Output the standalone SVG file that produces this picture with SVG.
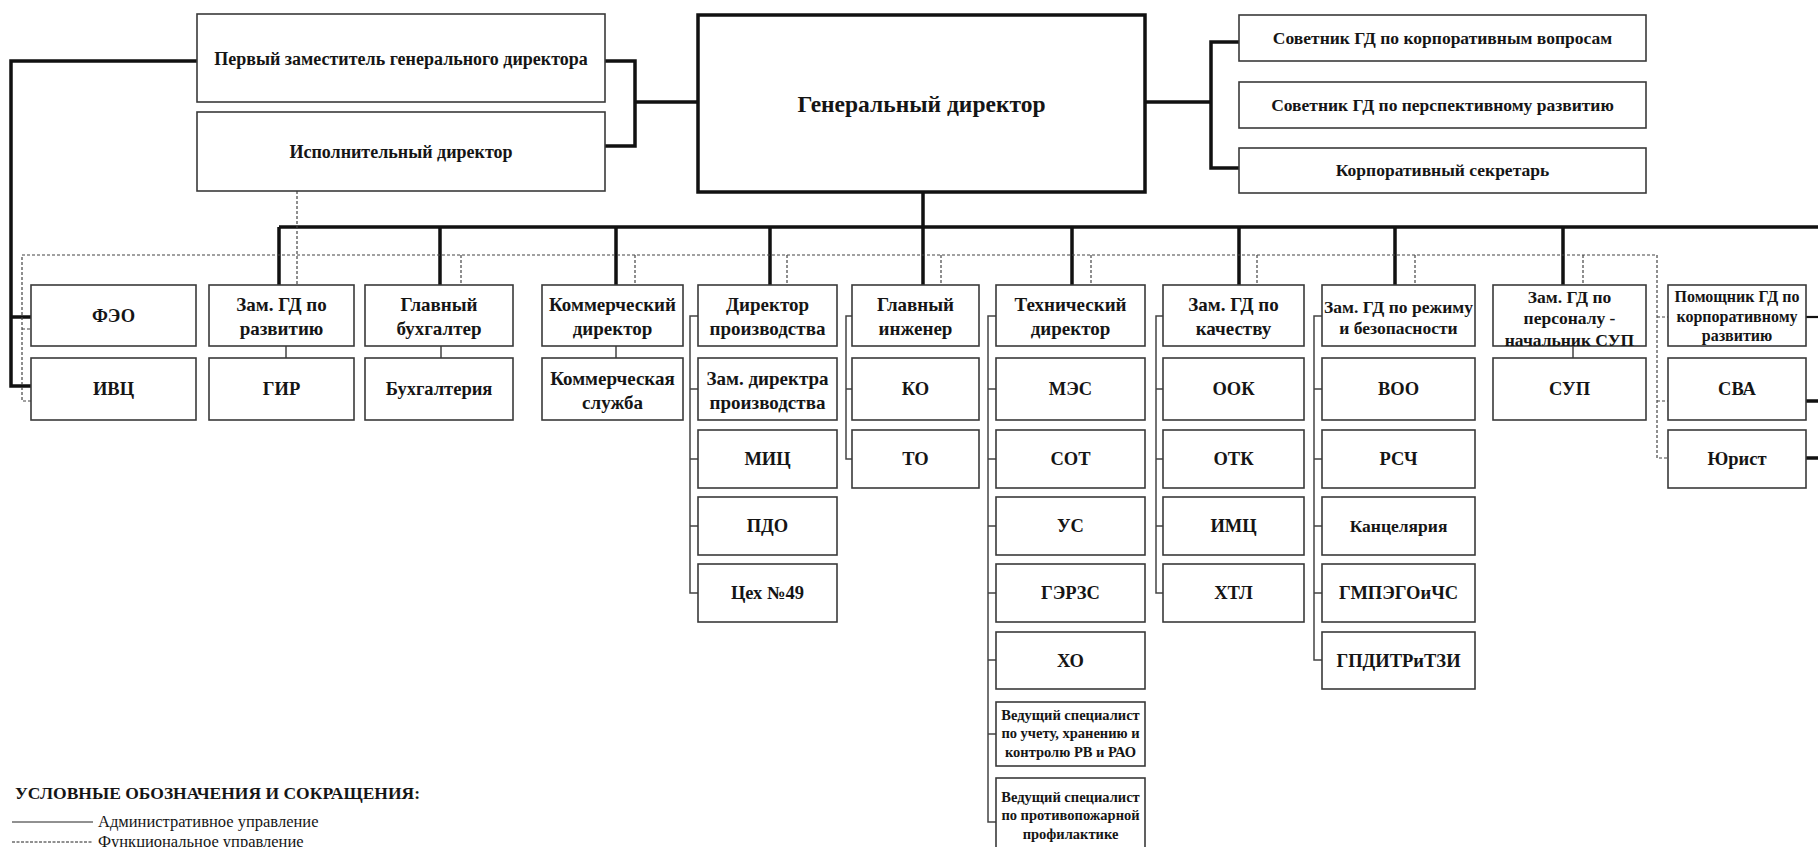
<svg xmlns="http://www.w3.org/2000/svg" width="1818" height="847" viewBox="0 0 1818 847">
<style>
.bg{fill:#fff}
.box{fill:#fff;stroke:#3a3a3a;stroke-width:1.6}
.gd{fill:#fff;stroke:#111;stroke-width:3.5}
.t{font-family:"Liberation Serif","Times New Roman",serif;font-weight:bold;font-size:18.5px;fill:#151515;text-anchor:middle}
.h{font-size:19px}
.s18{font-size:18px}
.s17{font-size:17.5px}
.s16{font-size:16px}
.s15{font-size:14.5px}
.big{font-size:23.5px}
.thick{stroke:#111;stroke-width:3.5;fill:none}
.med{stroke:#111;stroke-width:2.2;fill:none}
.thin{stroke:#444;stroke-width:1.5;fill:none}
.dash{stroke:#444;stroke-width:1.2;stroke-dasharray:3 2;fill:none}
.lg{font-family:"Liberation Serif","Times New Roman",serif;fill:#151515}
</style>
<rect class="bg" x="0" y="0" width="1818" height="847"/>

<g id="connectors">
  <path class="thick" d="M197,61 H11 V386 H31 M11,317 H31"/>
  <path class="thick" d="M605,61 H635 V146 H605 M635,102 H698"/>
  <path class="thick" d="M1145,102 H1211 M1239,42 H1211 V168 H1239"/>
  <path class="thick" d="M923,192 V227 M279,227 H1818"/>
  <path class="thick" d="M279,227 V285 M440,227 V285 M616,227 V285 M770,227 V285 M923,227 V285 M1072,227 V285 M1239,227 V285 M1395,227 V285 M1563,227 V285"/>
  <path class="thick" d="M1806,401 H1818 M1806,458 H1818"/>
  <path class="med" d="M1806,317 H1818"/>
  <path class="thin" d="M286,346 V358 M441,346 V358 M616,346 V358 M1573,346 V358"/>
  <path class="thin" d="M698,316 H690 V593 H698 M690,389 H698 M690,459 H698 M690,526 H698"/>
  <path class="thin" d="M852,316 H846 V459 H852 M846,389 H852"/>
  <path class="thin" d="M996,316 H988 V822 H996 M988,389 H996 M988,459 H996 M988,526 H996 M988,593 H996 M988,660 H996 M988,734 H996"/>
  <path class="thin" d="M1163,316 H1156 V593 H1163 M1156,389 H1163 M1156,459 H1163 M1156,526 H1163"/>
  <path class="thin" d="M1322,316 H1314 V660 H1322 M1314,389 H1322 M1314,459 H1322 M1314,526 H1322 M1314,593 H1322"/>
  <path class="dash" d="M297,191 V285"/>
  <path class="dash" d="M31,401 H22 V255 H1657 V458 H1668 M22,329 H31 M1657,317 H1668 M1657,401 H1668"/>
  <path class="dash" d="M461,255 V285 M635,255 V285 M787,255 V285 M941,255 V285 M1091,255 V285 M1257,255 V285 M1415,255 V285 M1583,255 V285"/>
</g>

<g id="n-first"><rect class="box" x="197" y="14" width="408" height="88"/><text class="t s18" x="401" y="65">Первый заместитель генерального директора</text></g>
<g id="n-exec"><rect class="box" x="197" y="112" width="408" height="79"/><text class="t s18" x="401" y="158">Исполнительный директор</text></g>
<g id="n-gd"><rect class="gd" x="698" y="15" width="447" height="177"/><text class="t big" x="921.5" y="112">Генеральный директор</text></g>
<g id="n-adv1"><rect class="box" x="1239" y="15" width="407" height="46"/><text class="t s17" x="1442.5" y="44">Советник ГД по корпоративным вопросам</text></g>
<g id="n-adv2"><rect class="box" x="1239" y="82" width="407" height="46"/><text class="t s17" x="1442.5" y="111">Советник ГД по перспективному развитию</text></g>
<g id="n-adv3"><rect class="box" x="1239" y="148" width="407" height="45"/><text class="t s17" x="1442.5" y="176">Корпоративный секретарь</text></g>

<g id="n-feo"><rect class="box" x="31" y="285" width="165" height="61"/><text class="t" x="113.5" y="322">ФЭО</text></g>
<g id="n-ivc"><rect class="box" x="31" y="358" width="165" height="62"/><text class="t" x="113.5" y="395">ИВЦ</text></g>

<g id="n-zamrazv"><rect class="box" x="209" y="285" width="145" height="61"/><text class="t h" x="281.5" y="311">Зам. ГД по<tspan x="281.5" y="335">развитию</tspan></text></g>
<g id="n-gir"><rect class="box" x="209" y="358" width="145" height="62"/><text class="t" x="281.5" y="395">ГИР</text></g>

<g id="n-glbuh"><rect class="box" x="365" y="285" width="148" height="61"/><text class="t h" x="439" y="311">Главный<tspan x="439" y="335">бухгалтер</tspan></text></g>
<g id="n-buh"><rect class="box" x="365" y="358" width="148" height="62"/><text class="t" x="439" y="395">Бухгалтерия</text></g>

<g id="n-komdir"><rect class="box" x="542" y="285" width="141" height="61"/><text class="t h" x="612.5" y="311">Коммерческий<tspan x="612.5" y="335">директор</tspan></text></g>
<g id="n-komsl"><rect class="box" x="542" y="358" width="141" height="62"/><text class="t h" x="612.5" y="385">Коммерческая<tspan x="612.5" y="409">служба</tspan></text></g>

<g id="n-dirpr"><rect class="box" x="698" y="285" width="139" height="61"/><text class="t h" x="767.5" y="311">Директор<tspan x="767.5" y="335">производства</tspan></text></g>
<g id="n-zamdirpr"><rect class="box" x="698" y="358" width="139" height="62"/><text class="t h" x="767.5" y="385">Зам. директра<tspan x="767.5" y="409">производства</tspan></text></g>
<g id="n-mic"><rect class="box" x="698" y="430" width="139" height="58"/><text class="t" x="767.5" y="465">МИЦ</text></g>
<g id="n-pdo"><rect class="box" x="698" y="497" width="139" height="58"/><text class="t" x="767.5" y="532">ПДО</text></g>
<g id="n-ceh"><rect class="box" x="698" y="564" width="139" height="58"/><text class="t" x="767.5" y="599">Цех №49</text></g>

<g id="n-glinzh"><rect class="box" x="852" y="285" width="127" height="61"/><text class="t h" x="915.5" y="311">Главный<tspan x="915.5" y="335">инженер</tspan></text></g>
<g id="n-ko"><rect class="box" x="852" y="358" width="127" height="62"/><text class="t" x="915.5" y="395">КО</text></g>
<g id="n-to"><rect class="box" x="852" y="430" width="127" height="58"/><text class="t" x="915.5" y="465">ТО</text></g>

<g id="n-tehdir"><rect class="box" x="996" y="285" width="149" height="61"/><text class="t h" x="1070.5" y="311">Технический<tspan x="1070.5" y="335">директор</tspan></text></g>
<g id="n-mes"><rect class="box" x="996" y="358" width="149" height="62"/><text class="t" x="1070.5" y="395">МЭС</text></g>
<g id="n-sot"><rect class="box" x="996" y="430" width="149" height="58"/><text class="t" x="1070.5" y="465">СОТ</text></g>
<g id="n-us"><rect class="box" x="996" y="497" width="149" height="58"/><text class="t" x="1070.5" y="532">УС</text></g>
<g id="n-gerzs"><rect class="box" x="996" y="564" width="149" height="58"/><text class="t" x="1070.5" y="599">ГЭРЗС</text></g>
<g id="n-ho"><rect class="box" x="996" y="632" width="149" height="57"/><text class="t" x="1070.5" y="667">ХО</text></g>
<g id="n-ved1"><rect class="box" x="996" y="702" width="149" height="64"/><text class="t s15" x="1070.5" y="720">Ведущий специалист<tspan x="1070.5" y="738">по учету, хранению и</tspan><tspan x="1070.5" y="757">контролю РВ и РАО</tspan></text></g>
<g id="n-ved2"><rect class="box" x="996" y="778" width="149" height="80"/><text class="t s15" x="1070.5" y="802">Ведущий специалист<tspan x="1070.5" y="820">по противопожарной</tspan><tspan x="1070.5" y="839">профилактике</tspan></text></g>

<g id="n-zamkach"><rect class="box" x="1163" y="285" width="141" height="61"/><text class="t h" x="1233.5" y="311">Зам. ГД по<tspan x="1233.5" y="335">качеству</tspan></text></g>
<g id="n-ook"><rect class="box" x="1163" y="358" width="141" height="62"/><text class="t" x="1233.5" y="395">ООК</text></g>
<g id="n-otk"><rect class="box" x="1163" y="430" width="141" height="58"/><text class="t" x="1233.5" y="465">ОТК</text></g>
<g id="n-imc"><rect class="box" x="1163" y="497" width="141" height="58"/><text class="t" x="1233.5" y="532">ИМЦ</text></g>
<g id="n-htl"><rect class="box" x="1163" y="564" width="141" height="58"/><text class="t" x="1233.5" y="599">ХТЛ</text></g>

<g id="n-zamrezh"><rect class="box" x="1322" y="285" width="153" height="61"/><text class="t s17" x="1398.5" y="313">Зам. ГД по режиму<tspan x="1398.5" y="334">и безопасности</tspan></text></g>
<g id="n-voo"><rect class="box" x="1322" y="358" width="153" height="62"/><text class="t" x="1398.5" y="395">ВОО</text></g>
<g id="n-rsch"><rect class="box" x="1322" y="430" width="153" height="58"/><text class="t" x="1398.5" y="465">РСЧ</text></g>
<g id="n-kanc"><rect class="box" x="1322" y="497" width="153" height="58"/><text class="t s17" x="1398.5" y="532">Канцелярия</text></g>
<g id="n-gmp"><rect class="box" x="1322" y="564" width="153" height="58"/><text class="t" x="1398.5" y="599">ГМПЭГОиЧС</text></g>
<g id="n-gpd"><rect class="box" x="1322" y="632" width="153" height="57"/><text class="t" x="1398.5" y="667">ГПДИТРиТЗИ</text></g>

<g id="n-zampers"><rect class="box" x="1493" y="285" width="153" height="61"/><text class="t s17" x="1569.5" y="303">Зам. ГД по<tspan x="1569.5" y="324">персоналу -</tspan><tspan x="1569.5" y="346">начальник СУП</tspan></text></g>
<g id="n-sup"><rect class="box" x="1493" y="358" width="153" height="62"/><text class="t" x="1569.5" y="395">СУП</text></g>

<g id="n-pom"><rect class="box" x="1668" y="285" width="138" height="61"/><text class="t s16" x="1737" y="302">Помощник ГД по<tspan x="1737" y="322">корпоративному</tspan><tspan x="1737" y="341">развитию</tspan></text></g>
<g id="n-sva"><rect class="box" x="1668" y="358" width="138" height="62"/><text class="t" x="1737" y="395">СВА</text></g>
<g id="n-yur"><rect class="box" x="1668" y="430" width="138" height="58"/><text class="t" x="1737" y="465">Юрист</text></g>

<g id="legend">
  <text class="lg" x="15" y="799" font-size="17.5" font-weight="bold">УСЛОВНЫЕ ОБОЗНАЧЕНИЯ И СОКРАЩЕНИЯ:</text>
  <line x1="12" y1="822" x2="93" y2="822" stroke="#222" stroke-width="1"/>
  <text class="lg" x="98" y="827" font-size="16.5">Административное управление</text>
  <line x1="12" y1="842" x2="93" y2="842" stroke="#222" stroke-width="1" stroke-dasharray="3 1.5"/>
  <text class="lg" x="98" y="847" font-size="16.5">Функциональное управление</text>
</g>
</svg>
